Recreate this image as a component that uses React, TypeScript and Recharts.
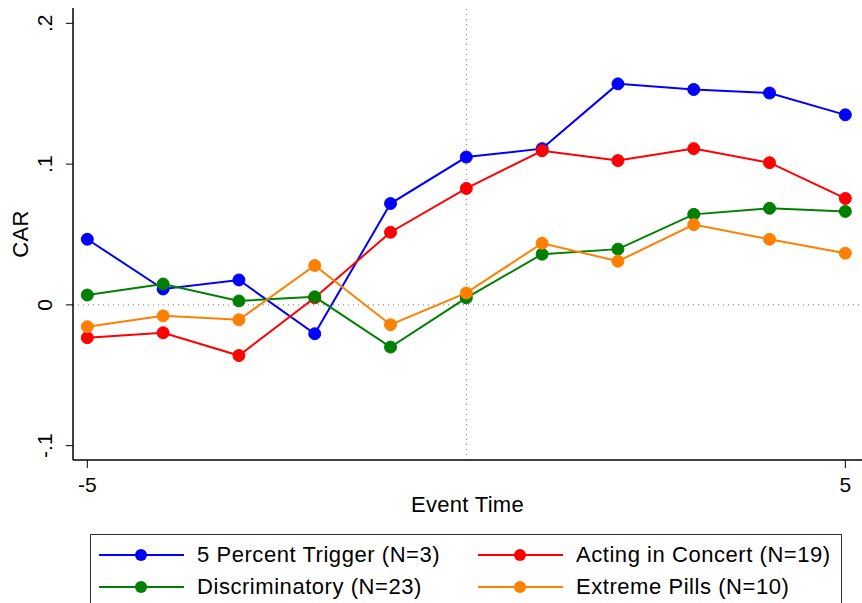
import React from 'react';
import { LineChart, Line, XAxis, YAxis, ReferenceLine } from 'recharts';

const eventTimes = [-5, -4, -3, -2, -1, 0, 1, 2, 3, 4, 5];
const trigger5 = [0.0466, 0.0113, 0.0177, -0.0205, 0.072, 0.105, 0.111, 0.157, 0.153, 0.1505, 0.135];
const actingConcert = [-0.0233, -0.0198, -0.036, 0.005, 0.0516, 0.0827, 0.1095, 0.1025, 0.111, 0.101, 0.0756];
const discriminatory = [0.007, 0.0148, 0.0028, 0.0057, -0.030, 0.005, 0.036, 0.0396, 0.0643, 0.0686, 0.0664];
const extremePills = [-0.0155, -0.0078, -0.0106, 0.028, -0.0141, 0.0085, 0.0438, 0.031, 0.057, 0.0466, 0.0367];

const xTicks = [-5, 5];
const yTicks = [-0.1, 0, 0.1, 0.2];
const yTickLabels = ['-.1', '0', '.1', '.2'];

const seriesInfo = [
  { key: 'trigger5', name: '5 Percent Trigger (N=3)', color: '#0000FF' },
  { key: 'actingConcert', name: 'Acting in Concert (N=19)', color: '#FF0000' },
  { key: 'discriminatory', name: 'Discriminatory (N=23)', color: '#008000' },
  { key: 'extremePills', name: 'Extreme Pills (N=10)', color: '#FF8000' },
];

const data = eventTimes.map((t, i) => ({
  t,
  trigger5: trigger5[i],
  actingConcert: actingConcert[i],
  discriminatory: discriminatory[i],
  extremePills: extremePills[i],
}));

const FONT = '"Liberation Sans", Arial, Helvetica, sans-serif';

const YTick = (props: any) => {
  const { y, payload } = props;
  const idx = yTicks.indexOf(payload.value);
  const label = idx >= 0 ? yTickLabels[idx] : String(payload.value);
  const cx = 45;
  return (
    <text
      x={cx}
      y={y}
      transform={`rotate(-90, ${cx}, ${y})`}
      textAnchor="middle"
      dominantBaseline="central"
      fontSize={21}
      fontFamily={FONT}
      fill="#000"
    >
      {label}
    </text>
  );
};

const XTick = (props: any) => {
  const { x, y, payload } = props;
  return (
    <text x={x} y={y + 14} textAnchor="middle" dominantBaseline="central" fontSize={21} fontFamily={FONT} fill="#000">
      {String(payload.value)}
    </text>
  );
};

const YLabel = (props: any) => {
  const vb = props.viewBox || {};
  const cy = (vb.y ?? 8) + (vb.height ?? 452) / 2;
  const cx = 20;
  return (
    <text
      x={cx}
      y={cy}
      transform={`rotate(-90, ${cx}, ${cy})`}
      textAnchor="middle"
      dominantBaseline="central"
      fontSize={22}
      fontFamily={FONT}
      fill="#000"
      letterSpacing={0.3}
    >
      CAR
    </text>
  );
};

const LegendItem = ({ left, top, color, name }: any) => (
  <div style={{ position: 'absolute', left, top, height: 30, width: 360 }}>
    <svg width={90} height={30} style={{ position: 'absolute', left: 0, top: 0 }}>
      <line x1={1} y1={15} x2={86} y2={15} stroke={color} strokeWidth={2} />
      <circle cx={43} cy={15} r={6} fill={color} />
    </svg>
    <span
      style={{
        position: 'absolute',
        left: 99,
        top: 15,
        transform: 'translateY(-50%)',
        fontSize: 22,
        fontFamily: FONT,
        whiteSpace: 'nowrap',
        color: '#000',
        lineHeight: '24px',
        letterSpacing: '0.55px',
      }}
    >
      {name}
    </span>
  </div>
);

export default function App() {
  return (
    <div style={{ position: 'absolute', left: 0, top: 0, width: 862, height: 603, background: '#fff', overflow: 'hidden' }}>
      <LineChart width={862} height={603} data={data} margin={{ top: 8, right: 0, bottom: 0, left: 0 }}>
        <XAxis
          dataKey="t"
          type="number"
          domain={[-5.189, 5.22]}
          ticks={xTicks}
          height={143}
          tick={<XTick />}
          tickSize={8}
          axisLine={{ stroke: '#000', strokeWidth: 1.5 }}
          tickLine={{ stroke: '#000', strokeWidth: 1 }}
          allowDataOverflow
          label={{ value: 'Event Time', position: 'insideTop', offset: 36, fontSize: 22, fontFamily: FONT, fill: '#000', letterSpacing: 0.3 }}
        />
        <YAxis
          type="number"
          domain={[-0.1102, 0.2109]}
          ticks={yTicks}
          width={73}
          tick={<YTick />}
          tickSize={7}
          axisLine={{ stroke: '#000', strokeWidth: 1.5 }}
          tickLine={{ stroke: '#000', strokeWidth: 1 }}
          allowDataOverflow
          label={<YLabel />}
        />
        <ReferenceLine y={0} stroke="#707070" strokeDasharray="1 4" strokeWidth={1} />
        <ReferenceLine x={0} stroke="#707070" strokeDasharray="1 4" strokeWidth={1} />
        {seriesInfo.map((s) => (
          <Line
            key={s.key}
            dataKey={s.key}
            name={s.name}
            stroke={s.color}
            strokeWidth={2}
            dot={{ r: 6, fill: s.color, stroke: s.color, strokeWidth: 1 }}
            activeDot={false}
            isAnimationActive={false}
            type="linear"
          />
        ))}
      </LineChart>
      <div
        style={{
          position: 'absolute',
          left: 90,
          top: 534,
          width: 752,
          height: 90,
          border: '1px solid #333',
          boxSizing: 'border-box',
          background: '#fff',
        }}
      />
      <LegendItem left={98} top={540} color={seriesInfo[0].color} name={seriesInfo[0].name} />
      <LegendItem left={477} top={540} color={seriesInfo[1].color} name={seriesInfo[1].name} />
      <LegendItem left={98} top={572} color={seriesInfo[2].color} name={seriesInfo[2].name} />
      <LegendItem left={477} top={572} color={seriesInfo[3].color} name={seriesInfo[3].name} />
    </div>
  );
}
